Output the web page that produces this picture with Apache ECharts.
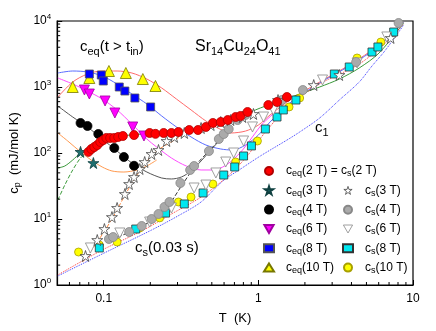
<!DOCTYPE html>
<html>
<head>
<meta charset="utf-8">
<script src="https://cdn.jsdelivr.net/npm/echarts@6.0.0/dist/echarts.min.js"></script>
<style>
  html, body { margin: 0; padding: 0; background: #fff; }
  #chart { width: 436px; height: 331px; }
</style>
</head>
<body>
<div id="chart"></div>
<script>
// points, [T (K), cp (mJ/mol K)]
const ceq2 = [[0.0796,104],[0.0832,115],[0.0869,123],[0.0908,132],[0.095,147],[0.0993,157],[0.104,169],[0.110,169],[0.117,169],[0.124,175],[0.133,181],[0.157,187],[0.198,201],[0.216,195],[0.244,201],[0.274,201],[0.304,208],[0.357,223],[0.407,223],[0.458,248],[0.508,285],[0.571,295],[0.634,316],[0.713,351],[0.767,364],[0.851,418],[1.16,533],[1.32,593],[1.53,705]];
const ceq3 = [[0.0708,104],[0.0857,70.5]];
const ceq4 = [[0.0708,285],[0.0785,257],[0.0922,194],[0.117,119],[0.135,87],[0.157,64]];
const ceq6 = [[0.075,900],[0.0807,783],[0.102,614],[0.118,404],[0.154,248],[0.182,181]];
const ceq8 = [[0.0807,1574],[0.0964,1520],[0.0993,1233],[0.126,1000],[0.137,869],[0.159,681],[0.201,498]];
const ceq10 = [[0.063,1000],[0.0807,1368],[0.108,1747],[0.139,1630],[0.179,1321],[0.216,1036]];

const cs3 = [[0.0762,2.75],[0.0908,4.8],[0.101,7.05],[0.113,10.7],[0.122,14.7],[0.137,23.9],[0.146,33.9],[0.157,43.3],[0.171,57.2],[0.184,73],[0.204,96.6],[0.226,111],[0.255,152],[0.286,175],[0.332,201],[0.426,239],[0.493,265],[0.571,295],[0.662,316],[0.790,351],[0.929,390],[1.34,635],[2.28,1070],[3.34,1520],[7.18,5530]];
const cs4 = [[0.108,4.98],[0.115,5.33],[0.146,6.35],[0.176,7.83],[0.204,10],[0.226,11.9],[0.247,15.2],[0.266,18.1],[0.313,35.1],[0.362,55.3],[0.384,63.5],[0.479,107],[0.555,163],[0.597,194],[0.643,231],[0.734,316],[0.826,377],[1.42,635],[1.94,900],[4.29,2390],[8.07,9330]];
const cs6 = [[0.082,3.64],[0.127,6.14],[0.198,9.0],[0.274,14.7],[0.384,29.5],[0.458,32.7],[0.531,49.8],[0.615,73],[0.692,100],[0.802,152],[0.916,248],[1.08,351],[1.25,449],[2.60,1277],[4.35,2310],[6.77,5730]];
const cs8 = [[0.0936,3.64],[0.161,7.05],[0.251,12.3],[0.332,16.9],[0.439,24.8],[0.597,46.4],[0.703,61.4],[0.802,90.1],[0.902,128],[1.11,231],[1.32,351],[1.45,449],[1.75,635],[3.10,1574],[3.87,2010],[5.43,3390],[5.93,4040],[7.50,6810]];
const cs10 = [[0.0687,3.16],[0.0936,4.04],[0.122,4.48],[0.171,7.31],[0.230,10.4],[0.304,18.1],[0.367,21.5],[0.508,33.9],[0.713,73.1],[0.986,152],[1.58,498],[1.85,681],[4.35,2750],[6.20,4810]];

// fitted curves
const fit10 = [[0.0505,705],[0.063,1190],[0.0785,1574],[0.0977,1747],[0.122,1747],[0.152,1630],[0.190,1321],[0.237,966],[0.295,658],[0.367,449],[0.458,305],[0.547,239],[0.662,201],[0.826,215],[1.0,265],[1.19,377],[1.60,635],[2.49,1190],[3.87,2150],[6.03,4330],[8.69,9660]];
const fit8 = [[0.0505,1630],[0.063,1747],[0.0785,1688],[0.0977,1468],[0.122,1110],[0.152,783],[0.190,553],[0.237,364],[0.295,248],[0.367,175],[0.458,132],[0.571,115],[0.682,111],[0.826,132],[1.0,187],[1.19,295],[1.60,573],[2.49,1150],[3.87,2080],[6.03,4180],[8.69,9660]];
const fit6 = [[0.0505,1368],[0.063,1110],[0.0785,869],[0.0977,658],[0.122,449],[0.152,275],[0.190,163],[0.220,123],[0.274,84],[0.342,63.5],[0.426,55.3],[0.508,55.3],[0.589,61.4],[0.682,78.3],[0.790,111],[0.915,175],[1.06,275],[1.29,418]];
const fit4 = [[0.0505,515],[0.063,351],[0.0785,248],[0.0977,163],[0.122,107],[0.152,70.5],[0.190,51.5],[0.237,41.8],[0.274,40.4],[0.318,43.3],[0.367,53.4],[0.426,75.7],[0.493,111],[0.571,163]];
const fit3 = [[0.0505,201],[0.0585,152],[0.0708,104],[0.0845,75.7],[0.0977,61.4],[0.113,53.4],[0.135,51.5],[0.164,55.3],[0.190,63.5],[0.220,78.3]];
const fit2 = [[0.0505,59.3],[0.056,63.5],[0.063,78.3],[0.0708,100],[0.0796,111],[0.0908,137],[0.105,163],[0.131,181],[0.176,194],[0.237,201],[0.318,208],[0.426,239],[0.571,295],[0.767,364],[1.03,481],[1.38,614],[1.85,783],[2.49,1000],[3.34,1321],[4.49,1940],[6.03,3270],[8.69,9330]];
const fit2low = [[0.0505,19.4],[0.056,32.7],[0.063,55.3],[0.0708,84],[0.0785,104]];
const c1 = [[0.0505,1.37],[0.0977,2.95],[0.204,6.81],[0.318,11.9],[0.426,18.1],[0.589,37.7],[0.767,57.2],[1.03,90.1],[1.53,157],[1.85,208],[2.49,339],[3.34,635],[4.49,1190],[5.43,2080],[6.49,3390],[7.83,6140],[8.69,8690]];
const csFit = [[0.0505,1.42],[0.0977,3.39],[0.176,6.58],[0.274,11.9],[0.426,21.5],[0.615,41.8],[0.826,84],[1.11,208],[1.60,533],[2.49,1110],[4.49,2230],[6.97,5150],[8.69,9010]];
const cs3Fit = [[0.073,2.23],[0.0908,4.48],[0.113,10],[0.141,25.7],[0.176,59.3],[0.220,107],[0.274,147],[0.367,215],[0.571,295],[0.889,390]];
const cs4Fit = [[0.105,4.48],[0.204,9.33],[0.255,14.7],[0.318,31.6],[0.395,65.8],[0.493,115],[0.643,223]];

const xMinor = [0.06,0.07,0.08,0.09,0.2,0.3,0.4,0.5,0.6,0.7,0.8,0.9,2,3,4,5,6,7,8,9];
const yMinor = [2,3,4,5,6,7,8,9,20,30,40,50,60,70,80,90,200,300,400,500,600,700,800,900,2000,3000,4000,5000,6000,7000,8000,9000];

const FONT = '"Liberation Sans", Arial, sans-serif';
const STAR = 'path://M50,2 L61,37 L98,37 L68,59 L79,95 L50,73 L21,95 L32,59 L2,37 L39,37 Z';
const DOWN = 'path://M0,0 L100,0 L50,87 Z';

const legendText = {
  ceq2: '{g| }{m|c}{s|eq}{m|(2 T) = c}{s|s}{m|(2 T)}',
  ceq3: '{g| }{m|c}{s|eq}{m|(3 T)}',
  ceq4: '{g| }{m|c}{s|eq}{m|(4 T)}',
  ceq6: '{g| }{m|c}{s|eq}{m|(6 T)}',
  ceq8: '{g| }{m|c}{s|eq}{m|(8 T)}',
  ceq10: '{g| }{m|c}{s|eq}{m|(10 T)}',
  cs3: '{g| }{m|c}{s|s}{m|(3 T)}',
  cs4: '{g| }{m|c}{s|s}{m|(4 T)}',
  cs6: '{g| }{m|c}{s|s}{m|(6 T)}',
  cs8: '{g| }{m|c}{s|s}{m|(8 T)}',
  cs10: '{g| }{m|c}{s|s}{m|(10 T)}'
};

function isDecade(v) {
  const e = Math.log10(v);
  return Math.abs(e - Math.round(e)) < 1e-6;
}

function fitLine(data, color, type) {
  return {
    type: 'line', data: data, smooth: 0.3, showSymbol: false, silent: true, z: 1,
    lineStyle: { color: color, width: 1, type: type || 'solid' }
  };
}

function dots(name, data, symbol, size, fill, border) {
  return {
    name: name, type: 'scatter', data: data, symbol: symbol, symbolSize: size, z: 3,
    itemStyle: { color: fill, borderColor: border, borderWidth: 0.8, opacity: 1 }
  };
}

function tickSeries(data, vertical) {
  return {
    type: 'custom', silent: true, z: 10, data: data,
    renderItem: function (params, api) {
      const c = api.coord([api.value(0), api.value(1)]);
      return {
        type: 'line',
        shape: vertical ? { x1: c[0], y1: c[1], x2: c[0], y2: c[1] - 3 }
                        : { x1: c[0], y1: c[1], x2: c[0] + 3, y2: c[1] },
        style: { stroke: '#000', lineWidth: 1 }
      };
    }
  };
}

const legendStyle = {
  color: '#000', fontSize: 12, fontFamily: FONT,
  rich: {
    g: { width: 7, fontSize: 12 },
    m: { fontSize: 12, fontFamily: FONT, color: '#000', lineHeight: 14 },
    s: { fontSize: 9, fontFamily: FONT, color: '#000', padding: [6, 0, 0, 0] }
  }
};

const subRich = function (size, sub, shift) {
  return {
    m: { fontSize: size, fontFamily: FONT, fill: '#000' },
    s: { fontSize: sub, fontFamily: FONT, fill: '#000', padding: [shift, 0, 0, 0] }
  };
};

const chart = echarts.init(document.getElementById('chart'));
chart.setOption({
  animation: false,
  backgroundColor: '#fff',
  grid: { left: 55, top: 21, right: 23, bottom: 46, show: true, borderColor: '#000', borderWidth: 1.2, backgroundColor: 'transparent' },
  xAxis: {
    type: 'log', logBase: 10, min: 0.05, max: 10,
    name: 'T  (K)', nameLocation: 'middle', nameGap: 27,
    nameTextStyle: { color: '#000', fontSize: 13, fontFamily: FONT },
    axisLine: { lineStyle: { color: '#000', width: 1.2 } },
    axisTick: { inside: true, length: 5, lineStyle: { color: '#000' } },
    splitLine: { show: false },
    axisLabel: {
      color: '#000', fontSize: 12, fontFamily: FONT, margin: 8,
      formatter: function (v) { return isDecade(v) ? String(+v.toPrecision(3)) : ''; }
    }
  },
  yAxis: {
    type: 'log', logBase: 10, min: 1, max: 10000,
    name: '{m|c}{s|p}{m|  (mJ/mol K)}', nameLocation: 'middle', nameGap: 28,
    nameTextStyle: {
      color: '#000', fontSize: 13, fontFamily: FONT,
      rich: {
        m: { fontSize: 13, fontFamily: FONT, color: '#000' },
        s: { fontSize: 9, fontFamily: FONT, color: '#000', padding: [7, 0, 0, 0] }
      }
    },
    axisLine: { lineStyle: { color: '#000', width: 1.2 } },
    axisTick: { inside: true, length: 5, lineStyle: { color: '#000' } },
    splitLine: { show: false },
    axisLabel: {
      color: '#000', fontSize: 12, fontFamily: FONT, margin: 6,
      formatter: function (v) { return isDecade(v) ? '10{sup|' + Math.round(Math.log10(v)) + '}' : ''; },
      rich: { sup: { fontSize: 8, fontFamily: FONT, color: '#000', padding: [0, 0, 8, 0] } }
    }
  },
  legend: [
    {
      data: ['ceq2', 'ceq3', 'ceq4', 'ceq6', 'ceq8', 'ceq10'],
      orient: 'vertical', left: 263, top: 165, padding: 0,
      itemWidth: 10, itemHeight: 8, itemGap: 5.8, selectedMode: false,
      formatter: function (n) { return legendText[n]; }, textStyle: legendStyle
    },
    {
      data: [
        { name: 'cs3', itemStyle: { color: '#ffffff', borderColor: '#444444', borderWidth: 0.8 } },
        'cs4',
        { name: 'cs6', itemStyle: { color: '#ffffff', borderColor: '#888888', borderWidth: 0.8 } },
        'cs8', 'cs10'
      ],
      orient: 'vertical', left: 342, top: 184.4, padding: 0,
      itemWidth: 10, itemHeight: 8, itemGap: 5.8, selectedMode: false,
      formatter: function (n) { return legendText[n]; }, textStyle: legendStyle
    }
  ],
  graphic: [
    { type: 'text', x: 80, y: 47, style: { text: '{m|c}{s|eq}{m|(t > t}{s|in}{m|)}', rich: subRich(15, 11, 9), verticalAlign: 'middle' } },
    { type: 'text', x: 195, y: 47, style: { text: '{m|Sr}{s|14}{m|Cu}{s|24}{m|O}{s|41}', rich: subRich(16, 11, 10), verticalAlign: 'middle' } },
    { type: 'text', x: 315, y: 128, style: { text: '{m|c}{s|1}', rich: subRich(15, 11, 9), verticalAlign: 'middle' } },
    { type: 'text', x: 135, y: 248, style: { text: '{m|c}{s|s}{m|(0.03 s)}', rich: subRich(15, 11, 9), verticalAlign: 'middle' } }
  ],
  series: [
    fitLine(fit10, '#ff6a6a'),
    fitLine(fit8, '#5a6cff'),
    fitLine(fit6, '#ff4cff'),
    fitLine(fit4, '#555555'),
    fitLine(fit3, '#ff9a50'),
    fitLine(fit2, '#3a9a3a'),
    fitLine(fit2low, '#3a9a3a', 'dashed'),
    fitLine(c1, '#3a3aff', 'dotted'),
    fitLine(csFit, '#ff3a3a', 'dotted'),
    fitLine(cs3Fit, '#ff8a40', 'dashed'),
    fitLine(cs4Fit, '#333333', 'dashed'),
    dots('cs10', cs10, 'circle', 8, '#ffff00', '#a8a000'),
    dots('cs8', cs8, 'rect', 8, '#00e8f0', '#333333'),
    dots('cs6', cs6, DOWN, 10, '#ffffff', '#888888'),
    dots('cs4', cs4, 'circle', 9, '#aaaaaa', '#888888'),
    dots('cs3', cs3, STAR, 11, '#ffffff', '#444444'),
    dots('ceq10', ceq10, 'triangle', 11, '#ffff00', '#777700'),
    dots('ceq8', ceq8, 'rect', 8, '#0000ff', '#555555'),
    dots('ceq6', ceq6, DOWN, 10, '#ff00ff', '#a000a0'),
    dots('ceq4', ceq4, 'circle', 9, '#000000', '#000000'),
    dots('ceq3', ceq3, STAR, 11, '#1f6f6f', '#0f4040'),
    dots('ceq2', ceq2, 'circle', 9, '#ff0000', '#b00000'),
    tickSeries(xMinor.map(function (v) { return [v, 1]; }), true),
    tickSeries(yMinor.map(function (v) { return [0.05, v]; }), false)
  ]
});
</script>
</body>
</html>
